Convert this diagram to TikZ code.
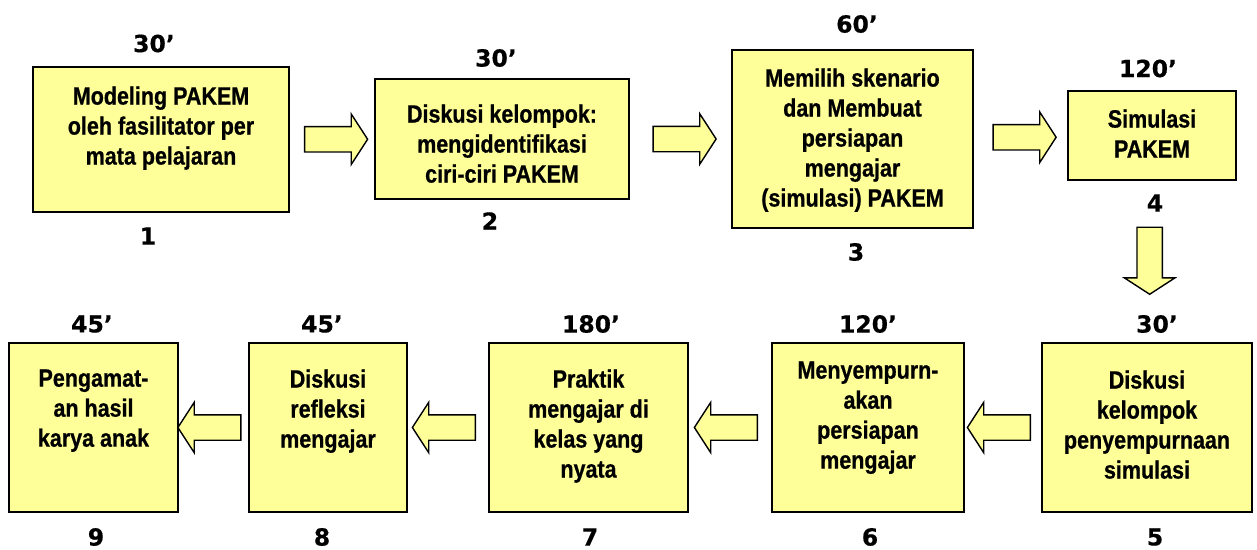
\documentclass[tikz,border=0pt]{standalone}
\usepackage{fontspec}
\usepackage{tikz}
\usetikzlibrary{positioning,calc,shapes.arrows}
\newfontfamily\boxfont[FakeStretch=0.86, FakeBold=0.7]{Liberation Sans Bold}
\newfontfamily\lblfont[FakeBold=0.5]{DejaVu Sans Bold}
\definecolor{boxyellow}{HTML}{FFFF99}

\begin{document}
\begin{tikzpicture}
        [%%%%%%%%%%%%%%%%%%%%%%%%%%%%%%
        x=1pt, y=-1pt,
        stepbox/.style={rectangle, draw=black, fill=boxyellow, line width=1.5pt, inner sep=0pt},
        steptext/.style={inner sep=0pt, align=center, font=\boxfont\fontsize{25}{30}\selectfont},
        lbl/.style={inner sep=0pt, font=\lblfont\fontsize{23.5}{28}\selectfont},
        blockarrow/.style={single arrow, draw=black, fill=boxyellow, line width=1.4pt, inner sep=0pt,
          text height=12pt, text depth=12pt, text width=0pt,
          minimum width=49pt, minimum height=63pt, single arrow head extend=12.5pt, single arrow tip angle=114},
        ]%%%%%%%%%%%%%%%%%%%%%%%%%%%%%%
        \useasboundingbox (0,0) rectangle (1257,549);
        % Top row
        \node[stepbox, minimum width=256pt, minimum height=145pt] (b1) at (161,139.5) {};
        \node[stepbox, minimum width=254pt, minimum height=120pt] (b2) at (502,139) {};
        \node[stepbox, minimum width=241pt, minimum height=178pt] (b3) at (852.5,139) {};
        \node[stepbox, minimum width=168pt, minimum height=89pt] (b4) at (1152,135.5) {};
        % Bottom row
        \node[stepbox, minimum width=210pt, minimum height=169pt] (b5) at (1147,427.5) {};
        \node[stepbox, minimum width=192pt, minimum height=169pt] (b6) at (868,427.5) {};
        \node[stepbox, minimum width=199pt, minimum height=169pt] (b7) at (588.5,427.5) {};
        \node[stepbox, minimum width=158pt, minimum height=169pt] (b8) at (328,427.5) {};
        \node[stepbox, minimum width=169pt, minimum height=169pt] (b9) at (93.5,427.5) {};
        % Text 
        \node[steptext, below=20pt of b1.north] (t1) {Modeling PAKEM\\oleh fasilitator per\\mata pelajaran};
        \node[steptext, below=26pt of b2.north] (t2) {Diskusi kelompok:\\mengidentifikasi\\ciri-ciri PAKEM};
        \node[steptext, below=19pt of b3.north] (t3) {Memilih skenario\\dan Membuat\\persiapan\\mengajar\\(simulasi) PAKEM};
        \node[steptext, below=19pt of b4.north] (t4) {Simulasi\\PAKEM};
        \node[steptext, below=28pt of b5.north] (t5) {Diskusi\\kelompok\\penyempurnaan\\simulasi};
        \node[steptext, below=19pt of b6.north] (t6) {Menyempurn-\\akan\\persiapan\\mengajar};
        \node[steptext, below=27pt of b7.north] (t7) {Praktik\\mengajar di\\kelas yang\\nyata};
        \node[steptext, below=27pt of b8.north] (t8) {Diskusi\\refleksi\\mengajar};
        \node[steptext, below=27pt of b9.north] (t9) {Pengamat-\\an hasil\\karya anak};
        % Minutes and numbers
        \node[lbl] (d1) at (154,43.5) {30’};
        \node[lbl] (n1) at (148,236) {1};
        \node[lbl] (d2) at (496,58) {30’};
        \node[lbl] (n2) at (490,221) {2};
        \node[lbl] (d3) at (857,24) {60’};
        \node[lbl] (n3) at (856,252) {3};
        \node[lbl] (d4) at (1148,68.5) {120’};
        \node[lbl] (n4) at (1155,203) {4};
        \node[lbl] (d5) at (1157,324) {30’};
        \node[lbl] (n5) at (1155,537) {5};
        \node[lbl] (d6) at (868,324) {120’};
        \node[lbl] (n6) at (870,537) {6};
        \node[lbl] (d7) at (591,324) {180’};
        \node[lbl] (n7) at (590,537) {7};
        \node[lbl] (d8) at (322,324) {45’};
        \node[lbl] (n8) at (322,537) {8};
        \node[lbl] (d9) at (92,324) {45’};
        \node[lbl] (n9) at (96,537) {9};
        % Arrows
        \foreach \a/\b in {b1/b2, b2/b3, b3/b4}{
          \node[blockarrow] (\a\b) at ($(\a.east)!0.5!(\b.west)$) {};
        }
        \node[blockarrow, rotate=-90, minimum height=67pt] (b4b5) at ($(b4.south)!0.47!(b5.north)$) {};
        \foreach \a/\b in {b5/b6, b6/b7, b7/b8, b8/b9}{
          \node[blockarrow, rotate=180] (\a\b) at ($(\a.west)!0.5!(\b.east)$) {};
        }
      \end{tikzpicture}
\end{document}
